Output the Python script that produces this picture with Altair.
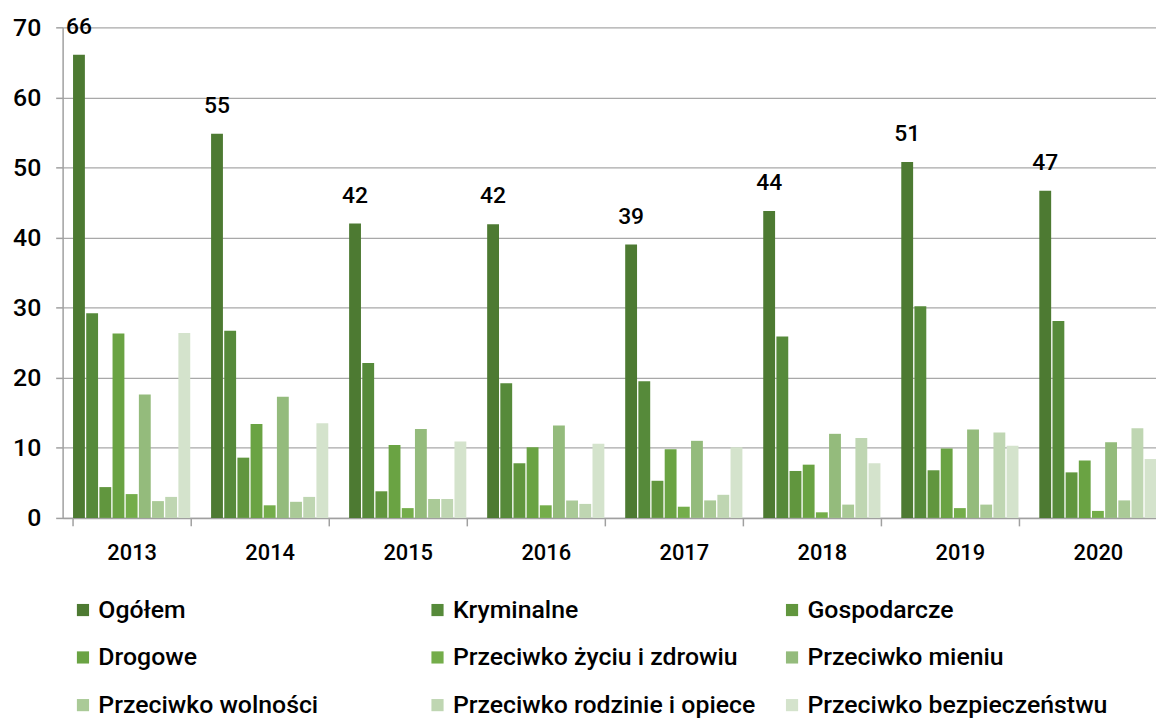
import altair as alt
import pandas as pd

years = ["2013", "2014", "2015", "2016", "2017", "2018", "2019", "2020"]
categories = [
    "Ogółem", "Kryminalne", "Gospodarcze",
    "Drogowe", "Przeciwko życiu i zdrowiu", "Przeciwko mieniu",
    "Przeciwko wolności", "Przeciwko rodzinie i opiece", "Przeciwko bezpieczeństwu",
]
ogolem = [66.1, 54.8, 42.0, 41.9, 39.0, 43.8, 50.8, 46.7]
kryminalne = [29.2, 26.7, 22.1, 19.2, 19.5, 25.9, 30.2, 28.1]
gospodarcze = [4.4, 8.6, 3.8, 7.8, 5.3, 6.7, 6.8, 6.5]
drogowe = [26.3, 13.4, 10.4, 10.1, 9.8, 7.6, 9.9, 8.2]
zycie_zdrowie = [3.4, 1.8, 1.4, 1.8, 1.6, 0.8, 1.4, 1.0]
mienie = [17.6, 17.3, 12.7, 13.2, 11.0, 12.0, 12.6, 10.8]
wolnosc = [2.4, 2.3, 2.7, 2.5, 2.5, 1.9, 1.9, 2.5]
rodzina_opieka = [3.0, 3.0, 2.7, 2.0, 3.3, 11.4, 12.2, 12.8]
bezpieczenstwo = [26.4, 13.5, 10.9, 10.6, 10.1, 7.8, 10.3, 8.4]
colors = ["#4d7a32", "#568a3a", "#61963e", "#6aa343", "#74ad4a",
          "#94bb7c", "#aaca97", "#bfd6b2", "#d4e3cc"]

series = [ogolem, kryminalne, gospodarcze, drogowe, zycie_zdrowie,
          mienie, wolnosc, rodzina_opieka, bezpieczenstwo]
rows = []
for cat, vals in zip(categories, series):
    for y, v in zip(years, vals):
        rows.append({"year": y, "category": cat, "value": v})
df = pd.DataFrame(rows)

x_enc = alt.X(
    "year:N", sort=years,
    scale=alt.Scale(range=[0, 1112], paddingInner=0.151, paddingOuter=0.0755),
    axis=alt.Axis(title=None, labelAngle=0, tickBand="extent", tickSize=8,
                  labelPadding=17, labelFontSize=22, grid=False),
)
xo_enc = alt.XOffset("category:N", sort=categories,
                     scale=alt.Scale(paddingInner=0.1, paddingOuter=0))
y_enc = alt.Y(
    "value:Q",
    scale=alt.Scale(domain=[0, 70], nice=False),
    axis=alt.Axis(title=None, values=[0, 10, 20, 30, 40, 50, 60, 70],
                  tickSize=7, labelPadding=15, labelFontSize=25),
)

base = alt.Chart(df)
bars = base.mark_bar().encode(
    x=x_enc, xOffset=xo_enc, y=y_enc,
    color=alt.Color(
        "category:N", sort=categories,
        scale=alt.Scale(domain=categories, range=colors),
        legend=alt.Legend(
            title=None, orient="none", legendX=8, legendY=574,
            direction="horizontal",
            columns=3, gridAlign="all", columnPadding=24, rowPadding=22,
            symbolType="square", symbolSize=150, symbolStrokeWidth=0,
            labelFontSize=25, labelFontWeight=500, labelOffset=3,
            labelColor="black", labelLimit=400,
        ),
    ),
)
labels = base.transform_filter(alt.datum.category == "Ogółem").mark_text(
    baseline="alphabetic", dy=-21, fontSize=23, fontWeight=500, color="black"
).encode(
    x=x_enc, xOffset=xo_enc, y=y_enc,
    text=alt.Text("value:Q", format=".0f"),
)

chart = alt.layer(bars, labels).properties(
    width=1101, height=494,
    autosize=alt.AutoSizeParams(type="none"),
    padding={"left": 55, "top": 17, "right": 0, "bottom": 200},
).configure(font="Roboto").configure_view(stroke=None).configure_axis(
    labelColor="black", domainColor="#a0a0a0", domainWidth=1.5,
    tickColor="#a0a0a0", tickWidth=1.5, gridColor="#a8a8a8", gridWidth=1.3,
    labelFont="Roboto", labelFontWeight=500,
).configure_legend(labelFont="Roboto")

chart.save("out.html", embed_options={"renderer": "svg", "actions": False})
